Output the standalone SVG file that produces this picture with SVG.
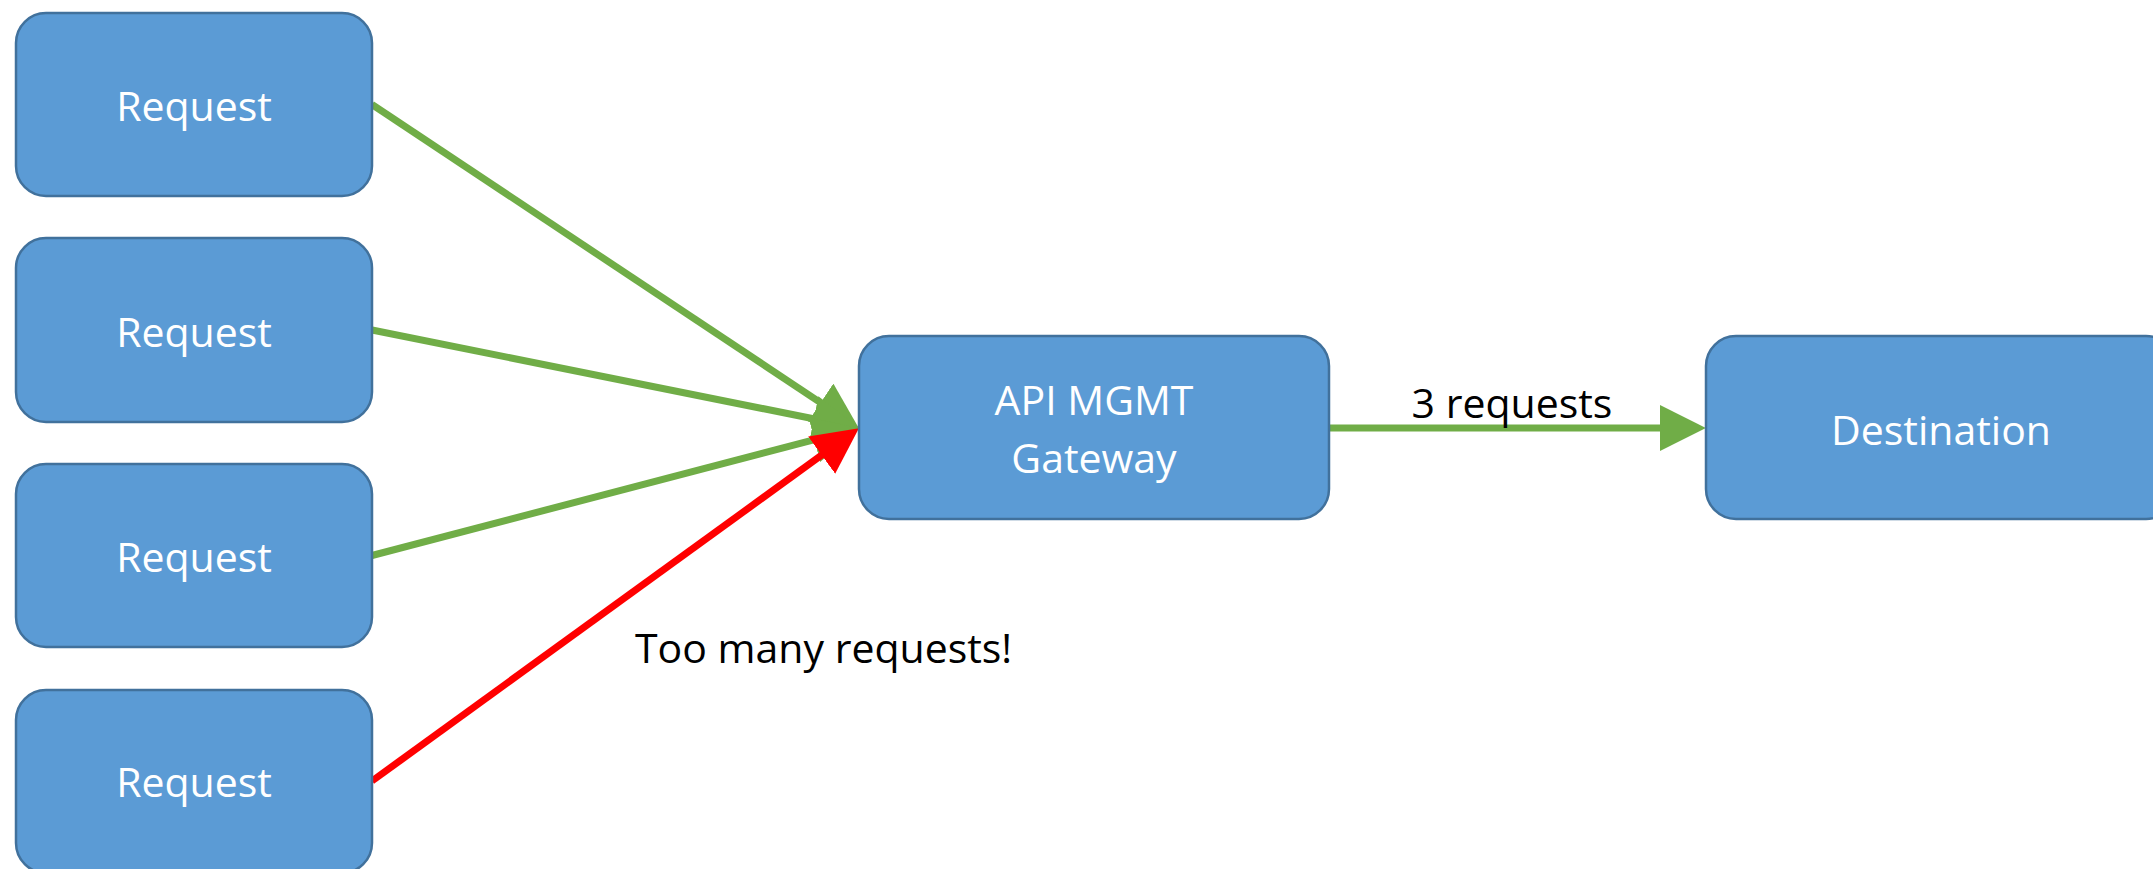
<svg xmlns="http://www.w3.org/2000/svg" width="2153" height="869" viewBox="0 0 2153 869">
<style>
.box{fill:#5B9BD5;stroke:#41719C;stroke-width:2.5}
.lbl{font-family:"Open Sans","Liberation Sans",sans-serif;font-size:41px;fill:#FFFFFF;text-anchor:middle}
.txt{font-family:"Open Sans","Liberation Sans",sans-serif;font-size:41px;fill:#000000}
.g{stroke:#70AD47;stroke-width:7;fill:none}
.r{stroke:#FF0000;stroke-width:7;fill:none}
</style>
<defs>
<marker id="ag" viewBox="0 0 10 10" refX="3.5" refY="5" markerUnits="userSpaceOnUse" markerWidth="46" markerHeight="46" orient="auto">
<path d="M0,0 L10,5 L0,10 z" fill="#70AD47"/>
</marker>
<marker id="ar" viewBox="0 0 10 10" refX="3.5" refY="5" markerUnits="userSpaceOnUse" markerWidth="46" markerHeight="46" orient="auto">
<path d="M0,0 L10,5 L0,10 z" fill="#FF0000"/>
</marker>
</defs>
<rect width="2153" height="869" fill="#FFFFFF"/>
<g id="connectors">
<line class="g" x1="372" y1="104.5" x2="834.0" y2="411.6" marker-end="url(#ag)"/>
<line class="g" x1="372" y1="330" x2="829.6" y2="422.0" marker-end="url(#ag)"/>
<line class="g" x1="372" y1="555.5" x2="829.9" y2="435.6" marker-end="url(#ag)"/>
<line class="r" x1="372" y1="781" x2="834.7" y2="445.7" marker-end="url(#ar)"/>
<line class="g" x1="1329" y1="428" x2="1676" y2="428" marker-end="url(#ag)"/>
<text class="txt" x="1512" y="418" text-anchor="middle">3 requests</text>
<text class="txt" x="635" y="663">Too many requests!</text>
</g>
<g id="request1">
<rect class="box" x="16" y="13" width="356" height="183" rx="30" ry="30"/>
<text class="lbl" x="194" y="121">Request</text>
</g>
<g id="request2">
<rect class="box" x="16" y="238" width="356" height="184" rx="30" ry="30"/>
<text class="lbl" x="194" y="347">Request</text>
</g>
<g id="request3">
<rect class="box" x="16" y="464" width="356" height="183" rx="30" ry="30"/>
<text class="lbl" x="194" y="572">Request</text>
</g>
<g id="request4">
<rect class="box" x="16" y="690" width="356" height="183" rx="30" ry="30"/>
<text class="lbl" x="194" y="797">Request</text>
</g>
<g id="gateway">
<rect class="box" x="859" y="336" width="470" height="183" rx="30" ry="30"/>
<text class="lbl" x="1094" y="415">API MGMT</text>
<text class="lbl" x="1094" y="473">Gateway</text>
</g>
<g id="destination">
<rect class="box" x="1706" y="336" width="470" height="183" rx="30" ry="30"/>
<text class="lbl" x="1941" y="445">Destination</text>
</g>
</svg>
